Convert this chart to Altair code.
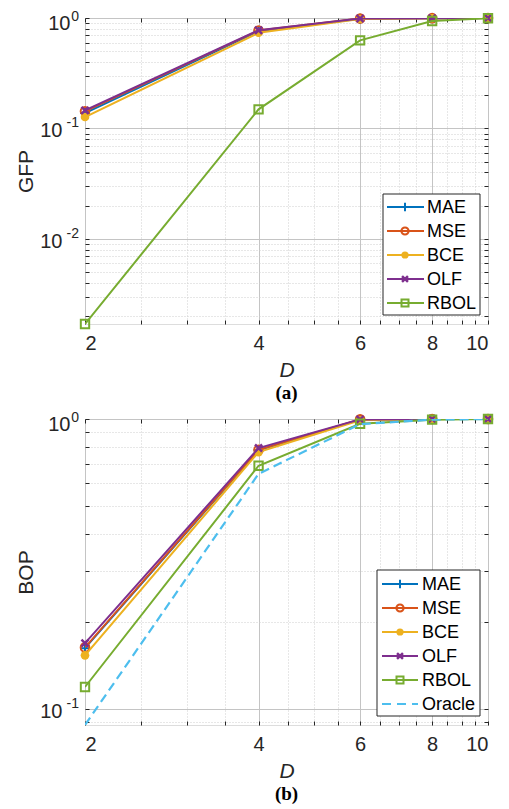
import altair as alt
import pandas as pd

# ---------------- data ----------------
D = [2, 4, 6, 8, 10]

names_a = ["MAE", "MSE", "BCE", "OLF", "RBOL"]
gfp = {
    "MAE":  [0.138, 0.760, 0.985, 0.995, 1.000],
    "MSE":  [0.143, 0.770, 0.990, 0.997, 1.000],
    "BCE":  [0.127, 0.735, 0.980, 0.995, 1.000],
    "OLF":  [0.146, 0.775, 0.990, 0.997, 1.000],
    "RBOL": [0.0017, 0.149, 0.628, 0.940, 0.995],
}

names_b = ["MAE", "MSE", "BCE", "OLF", "RBOL", "Oracle"]
bop = {
    "MAE":    [0.162, 0.780, 0.995, 1.000, 1.000],
    "MSE":    [0.163, 0.783, 0.997, 1.000, 1.000],
    "BCE":    [0.153, 0.769, 0.990, 1.000, 1.000],
    "OLF":    [0.1686, 0.794, 0.997, 1.000, 1.000],
    "RBOL":   [0.119, 0.690, 0.963, 0.995, 1.000],
    "Oracle": [0.088, 0.647, 0.960, 0.995, 1.000],
}

x_major = [2, 4, 6, 8, 10]
x_minor = [2.5, 3, 3.5, 4.5, 5, 5.5, 6.5, 7, 7.5, 8.5, 9, 9.5]

# y tick labels: value -> exponent text
ylab_a = [(1.0, "0"), (0.1, "-1"), (0.01, "-2")]
ylab_b = [(1.0, "0"), (0.1, "-1")]

colors = {"MAE": "#0072BD", "MSE": "#D95319", "BCE": "#EDB120",
          "OLF": "#7E2F8E", "RBOL": "#77AC30", "Oracle": "#4DBEEE"}

PLUS = "M-1,0L1,0M0,-1L0,1"
XMARK = "M-1,-1L1,1M-1,1L1,-1"
markers = {
    "MAE":  dict(shape=PLUS, filled=False, size=100, strokeWidth=2),
    "MSE":  dict(shape="circle", filled=False, size=75, strokeWidth=2),
    "BCE":  dict(shape="circle", filled=True, size=75, strokeWidth=0),
    "OLF":  dict(shape=XMARK, filled=False, size=50, strokeWidth=2.5),
    "RBOL": dict(shape="square", filled=False, size=70, strokeWidth=2),
}

W, H = 403, 306
FONT = "Liberation Sans"
AX = "#262626"
EXP_W = {"0": 8.5, "-1": 16.5, "-2": 16.5}


def panel(series, names, ytitle, ydomain, ylabs, caption, leg):
    y_major = [v for v, _ in ylabs]
    rows = []
    for n in names:
        for d, v in zip(D, series[n]):
            rows.append({"D": d, "v": v, "s": n})
    df = pd.DataFrame(rows)

    lo = ydomain[0]
    y_minor = []
    dec = 0.001
    while dec < 1:
        for k in range(2, 10):
            val = round(k * dec, 6)
            if lo <= val < 1:
                y_minor.append(val)
        dec *= 10
    y_all = y_major + y_minor
    x_all = x_major + x_minor

    xs = alt.Scale(type="log", domain=[2, 10], nice=False, zero=False)
    ys = alt.Scale(type="log", domain=ydomain, nice=False, zero=False)

    def ax_chart(xaxis, yaxis):
        return alt.Chart(df).mark_point(opacity=0).encode(
            x=alt.X("D:Q", scale=xs, axis=xaxis),
            y=alt.Y("v:Q", scale=ys, axis=yaxis),
        )

    common = dict(labels=False, ticks=False, domain=False, title=None)
    minor_grid = ax_chart(
        alt.Axis(values=x_minor, grid=True, gridDash=[1, 2], gridColor="#cfcfcf",
                 orient="bottom", **common),
        alt.Axis(values=y_minor, grid=True, gridDash=[1, 2], gridColor="#cfcfcf",
                 orient="left", **common),
    )
    major = ax_chart(
        alt.Axis(values=x_major, grid=True, gridColor="#c4c4c4", labels=True,
                 ticks=False, domain=False, orient="bottom", format="d",
                 labelFont=FONT, labelFontSize=20, labelColor=AX, labelPadding=9,
                 title="D", titleFont=FONT, titleFontSize=21, titleFontStyle="italic",
                 titleFontWeight="normal", titleColor=AX, titlePadding=6),
        alt.Axis(values=y_major, grid=True, gridColor="#c4c4c4", labels=False,
                 ticks=False, domain=False, orient="left",
                 title=ytitle, titleFont=FONT, titleFontSize=21,
                 titleFontWeight="normal", titleColor=AX, titlePadding=49),
    )
    tk = dict(labels=False, ticks=True, tickSize=4, tickColor=AX, grid=False,
              domain=False, title=None)
    ticks_in1 = ax_chart(
        alt.Axis(values=x_all, orient="top", offset=-H, **tk),
        alt.Axis(values=y_all, orient="right", offset=-W, **tk),
    )
    ticks_in2 = ax_chart(
        alt.Axis(values=x_all, orient="bottom", offset=-H, **tk),
        alt.Axis(values=y_all, orient="left", offset=-W, **tk),
    )

    layers = [minor_grid, major, ticks_in1, ticks_in2]

    # y tick labels as "10" + superscript exponent
    for v, e in ylabs:
        top_lab = v >= 1.0
        d1 = pd.DataFrame({"v": [v], "base": ["10"], "exp": [e]})
        layers.append(alt.Chart(d1).mark_text(
            align="right", baseline="middle", font=FONT, fontSize=20, color=AX,
            dx=-(6 + EXP_W[e]), dy=5.5 if top_lab else 3).encode(
            x=alt.value(0), y=alt.Y("v:Q", scale=ys, axis=None), text="base:N"))
        layers.append(alt.Chart(d1).mark_text(
            align="right", baseline="middle", font=FONT, fontSize=14, color=AX,
            dx=-6, dy=-1 if top_lab else -5).encode(
            x=alt.value(0), y=alt.Y("v:Q", scale=ys, axis=None), text="exp:N"))

    for n in names:
        sub = df[df.s == n]
        enc = dict(x=alt.X("D:Q", scale=xs, axis=None),
                   y=alt.Y("v:Q", scale=ys, axis=None))
        if n == "Oracle":
            layers.append(alt.Chart(sub).mark_line(color=colors[n], strokeWidth=2.2,
                                                   strokeDash=[9, 5], clip=True).encode(**enc))
        else:
            layers.append(alt.Chart(sub).mark_line(color=colors[n], strokeWidth=2,
                                                   clip=True).encode(**enc))
            m = markers[n]
            layers.append(alt.Chart(sub).mark_point(color=colors[n], opacity=1,
                                                    clip=False, **m).encode(**enc))

    # legend
    bx0, bx1, by0, by1, ly0, step, lx0, lx1, mx, tx = leg
    one = pd.DataFrame({"label": [""]})
    layers.append(alt.Chart(one).mark_rect(fill="white", stroke=AX, strokeWidth=1).encode(
        x=alt.value(bx0), x2=alt.value(bx1), y=alt.value(by0), y2=alt.value(by1)))
    for i, n in enumerate(names):
        yy = ly0 + i * step
        d1 = pd.DataFrame({"label": [n]})
        if n == "Oracle":
            layers.append(alt.Chart(d1).mark_rule(color=colors[n], strokeWidth=2.2,
                                                  strokeDash=[9, 6]).encode(
                x=alt.value(lx0), x2=alt.value(lx1), y=alt.value(yy)))
        else:
            layers.append(alt.Chart(d1).mark_rule(color=colors[n], strokeWidth=2).encode(
                x=alt.value(lx0), x2=alt.value(lx1), y=alt.value(yy)))
            m = dict(markers[n])
            m["size"] = m["size"] * 0.7
            layers.append(alt.Chart(d1).mark_point(color=colors[n], opacity=1, **m).encode(
                x=alt.value(mx), y=alt.value(yy)))
        layers.append(alt.Chart(d1).mark_text(align="left", baseline="middle", font=FONT,
                                              fontSize=18, color="black").encode(
            x=alt.value(tx), y=alt.value(yy + 1), text="label:N"))

    return alt.layer(*layers).resolve_axis(x="independent", y="independent").properties(
        width=W, height=H,
        title=alt.TitleParams(caption, orient="bottom", font="Liberation Serif",
                              fontWeight="bold", fontSize=19, color="black", offset=4),
    )


top = panel(gfp, names_a, "GFP", [0.0017, 1.0], ylab_a, "(a)",
            (298, 395, 176, 297, 189, 24, 302, 339, 320, 342))
bot = panel(bop, names_b, "BOP", [0.088, 1.0], ylab_b, "(b)",
            (292, 395, 151, 297, 165, 24, 297, 333, 315, 337))

chart = alt.vconcat(top, bot, spacing=5).properties(
    padding={"left": 6, "top": 0, "right": 0, "bottom": 0}
).configure_view(stroke=AX, strokeWidth=1).configure(background="white")

chart.save("out.html", embed_options={"renderer": "svg", "actions": False})
